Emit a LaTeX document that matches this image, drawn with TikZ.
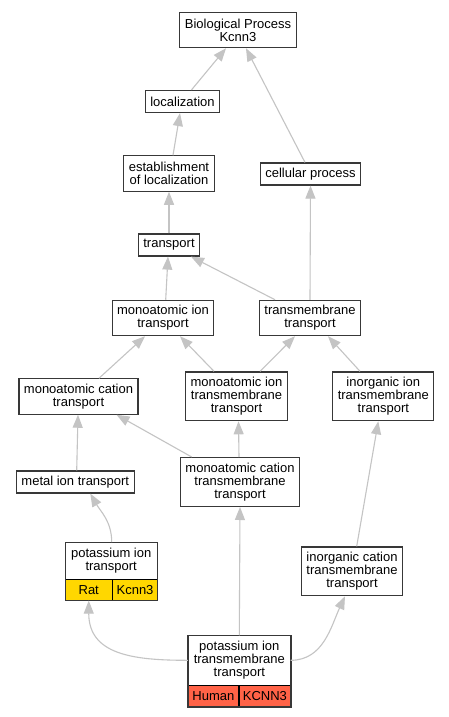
\documentclass[tikz,border=0pt]{standalone}
\usepackage{fontspec}
\setmainfont{Liberation Sans}
\usetikzlibrary{arrows.meta}

\definecolor{edgegray}{HTML}{C4C4C4}
\definecolor{boxgray}{HTML}{383838}
\definecolor{ratgold}{HTML}{FFD700}
\definecolor{humanred}{HTML}{FF6347}

\tikzset{
	term/.style = {draw = boxgray, line width = 1.2pt, fill = white, align = center,
		inner xsep = 5pt, inner ysep = 0pt, font = \fontsize{13}{13}\selectfont},
	oneline/.style = {minimum height = 22pt},
	twoline/.style = {minimum height = 35.3pt},
	threeline/.style = {minimum height = 48.8pt},
	head/.style = {term, draw = none},
	cell/.style = {draw = black, line width = 0.8pt, anchor = north west, inner sep = 0pt,
		minimum height = 21pt, font = \fontsize{13}{13}\selectfont},
	frame/.style = {draw = boxgray, line width = 1.2pt},
	isa/.style = {draw = edgegray, line width = 1.1pt, -{Triangle[length = 13pt, width = 10pt]}}
}

\begin{document}
\begin{tikzpicture}[x = 1pt, y = -1pt]

	% Page
	
	\path [fill = white, use as bounding box] (0, 0) rectangle (449, 717);

	% Terms
	
	\node [term, twoline] (bp) at (238, 30) {Biological Process\\Kcnn3};
	\node [term, oneline] (loc) at (182.5, 101.5) {localization};
	\node [term, twoline] (est) at (169, 173.5) {establishment\\of localization};
	\node [term, oneline] (cell) at (310.5, 174) {cellular process};
	\node [term, oneline] (tr) at (169, 245) {transport};
	\node [term, twoline] (mit) at (163, 318) {monoatomic ion\\transport};
	\node [term, twoline] (tmt) at (310, 318) {transmembrane\\transport};
	\node [term, twoline] (mct) at (78.5, 396.5) {monoatomic cation\\transport};
	\node [term, threeline] (mitm) at (236.5, 396.3) {monoatomic ion\\transmembrane\\transport};
	\node [term, threeline] (iitm) at (383.3, 396.3) {inorganic ion\\transmembrane\\transport};
	\node [term, oneline] (metal) at (75.3, 482) {metal ion transport};
	\node [term, threeline] (mctm) at (240, 482) {monoatomic cation\\transmembrane\\transport};
	\node [term, threeline] (ictm) at (352, 571.3) {inorganic cation\\transmembrane\\transport};
	
	% Annotated terms
	
	\node [head, minimum width = 91pt, minimum height = 35.5pt] (pit) at (111.2, 560.5) {potassium ion\\transport};
	\node [cell, fill = ratgold, minimum width = 46.5pt] (pitRat) at (pit.south west) {Rat};
	\node [cell, fill = ratgold, minimum width = 44.5pt] (pitGene) at (pitRat.north east) {Kcnn3};
	\draw [frame] (pit.north west) rectangle (pitGene.south east);
	
	\node [head, minimum width = 101.5pt, minimum height = 48.5pt] (pitm) at (239.3, 660.3) {potassium ion\\transmembrane\\transport};
	\node [cell, fill = humanred, minimum width = 50pt] (pitmHuman) at (pitm.south west) {Human};
	\node [cell, fill = humanred, minimum width = 51.5pt] (pitmGene) at (pitmHuman.north east) {KCNN3};
	\draw [frame] (pitm.north west) rectangle (pitmGene.south east);
	
	% is_a edges
	
	\draw [isa] ([xshift = 9pt] loc.north) -- ([xshift = -12pt] bp.south);
	\draw [isa] ([xshift = -5.5pt] cell.north) -- ([xshift = 8pt] bp.south);
	\draw [isa] ([xshift = 4pt] est.north) -- ([xshift = -2.5pt] loc.south);
	\draw [isa] (tr.north) -- (est.south);
	\draw [isa] (tmt.north) -- (cell.south);
	\draw [isa] ([xshift = 2.7pt] mit.north) -- ([xshift = -1pt] tr.south);
	\draw [isa] ([xshift = -35pt] tmt.north) -- ([xshift = 22pt] tr.south);
	\draw [isa] ([xshift = 20.5pt] mct.north) -- ([xshift = -18pt] mit.south);
	\draw [isa] ([xshift = -22.5pt] mitm.north) -- ([xshift = 17pt] mit.south);
	\draw [isa] ([xshift = 23.5pt] mitm.north) -- ([xshift = -15pt] tmt.south);
	\draw [isa] ([xshift = -23.3pt] iitm.north) -- ([xshift = 18pt] tmt.south);
	\draw [isa] ([xshift = -48.3pt] mctm.north) -- ([xshift = 38pt] mct.south);
	\draw [isa] ([xshift = -1pt] mctm.north) -- ([xshift = 2pt] mitm.south);
	\draw [isa] ([xshift = 1.4pt] metal.north) -- ([xshift = -0.5pt] mct.south);
	\draw [isa] ([xshift = 0.5pt] pit.north) to [out = 90, in = -60] ([xshift = 15pt] metal.south);
	\draw [isa] ([xshift = 4.7pt] ictm.north) -- ([xshift = -5pt] iitm.south);
	\draw [isa] (pitm.north) -- (mctm.south);
	\draw [isa] (pitm.west) to [out = 180, in = -90, looseness = 1.2] (pitRat.south);
	\draw [isa] (pitm.east) to [out = 0, in = -115] ([xshift = -7pt] ictm.south);
	
\end{tikzpicture}
\end{document}
